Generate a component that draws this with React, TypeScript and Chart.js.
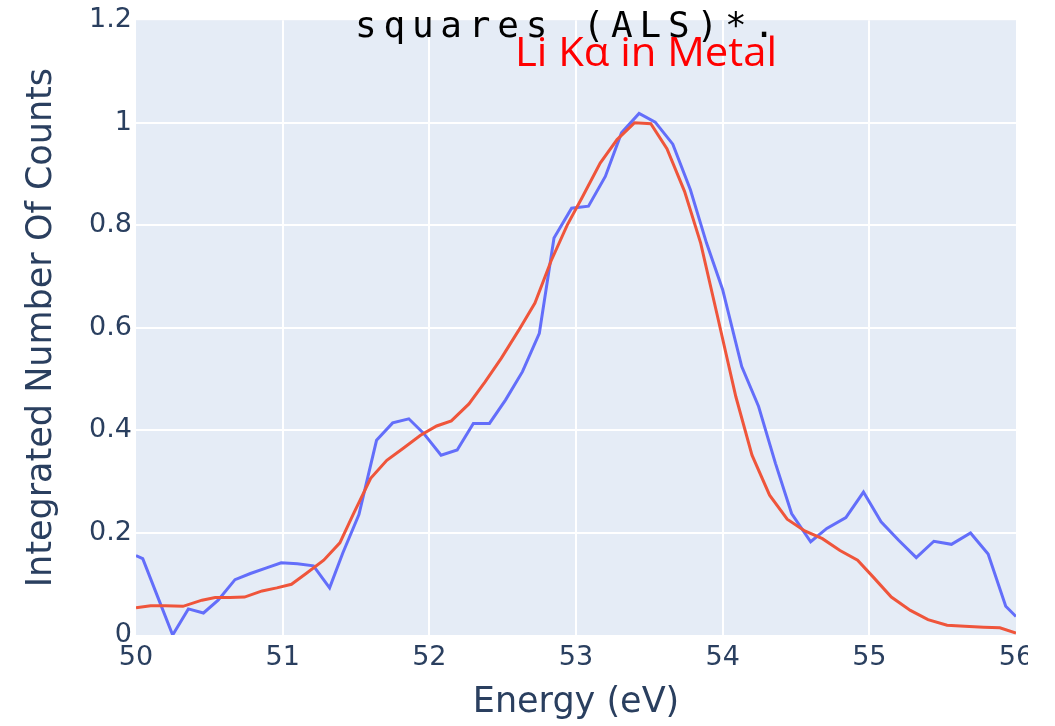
import React, { useEffect, useRef } from "react";
import { Chart, registerables } from "chart.js";

Chart.register(...registerables);

// Measured (blue) spectrum
const MEASURED_ENERGY = [
  50.0, 50.046, 50.15, 50.25, 50.357, 50.46, 50.56, 50.675, 50.78, 50.89,
  50.99, 51.1, 51.21, 51.32, 51.41, 51.52, 51.64, 51.75, 51.86, 51.96,
  52.08, 52.19, 52.3, 52.41, 52.52, 52.635, 52.75, 52.85, 52.97, 53.085,
  53.2, 53.31, 53.43, 53.54, 53.66, 53.78, 53.89, 54.0, 54.13, 54.245,
  54.36, 54.47, 54.6, 54.71, 54.84, 54.96, 55.08, 55.2, 55.32, 55.44,
  55.56, 55.69, 55.81, 55.93, 56.0,
];
const MEASURED_COUNTS = [
  0.155, 0.149, 0.073, 0.0, 0.051, 0.043, 0.068, 0.108, 0.12, 0.131,
  0.141, 0.139, 0.135, 0.092, 0.16, 0.235, 0.38, 0.414, 0.422, 0.394,
  0.351, 0.361, 0.413, 0.413, 0.459, 0.514, 0.589, 0.775, 0.833, 0.837,
  0.895, 0.98, 1.018, 1.001, 0.958, 0.869, 0.765, 0.674, 0.524, 0.446,
  0.335, 0.237, 0.182, 0.208, 0.229, 0.279, 0.221, 0.185, 0.151, 0.183,
  0.177, 0.199, 0.158, 0.056, 0.036,
];

// Reference (red) spectrum
const REFERENCE_ENERGY = [
  50.0, 50.1, 50.2, 50.32, 50.45, 50.54, 50.64, 50.74, 50.86, 50.96,
  51.06, 51.16, 51.28, 51.39, 51.48, 51.6, 51.71, 51.82, 51.94, 52.05,
  52.15, 52.27, 52.38, 52.49, 52.61, 52.72, 52.83, 52.94, 53.04, 53.165,
  53.28, 53.4, 53.51, 53.62, 53.74, 53.85, 53.96, 54.09, 54.2, 54.32,
  54.44, 54.56, 54.68, 54.8, 54.92, 55.03, 55.15, 55.28, 55.4, 55.53,
  55.65, 55.78, 55.89, 56.0,
];
const REFERENCE_COUNTS = [
  0.053, 0.057, 0.057, 0.056, 0.068, 0.073, 0.073, 0.074, 0.086, 0.092,
  0.099, 0.12, 0.146, 0.18, 0.235, 0.306, 0.341, 0.364, 0.39, 0.408,
  0.418, 0.451, 0.494, 0.54, 0.595, 0.648, 0.73, 0.8, 0.853, 0.921,
  0.967, 1.0, 0.998, 0.949, 0.866, 0.765, 0.628, 0.465, 0.351, 0.273,
  0.226, 0.203, 0.188, 0.165, 0.146, 0.112, 0.074, 0.048, 0.03, 0.019,
  0.017, 0.015, 0.014, 0.004,
];

const X_TICKS = [50, 51, 52, 53, 54, 55, 56];
const Y_TICKS = [0, 0.2, 0.4, 0.6, 0.8, 1, 1.2];
const Y_TICK_LABELS = ["0", "0.2", "0.4", "0.6", "0.8", "1", "1.2"];

const TOP_TEXT = "squares (ALS)*.";
const RED_TEXT = "Li Kα in Metal";
const X_TITLE = "Energy (eV)";
const Y_TITLE = "Integrated Number Of Counts";

const AXIS_COLOR = "#2a3f5f";
const FONT = '"DejaVu Sans", Verdana, sans-serif';

export default function App() {
  const ref = useRef<HTMLCanvasElement | null>(null);

  useEffect(() => {
    const canvas = ref.current;
    if (!canvas) return;

    const bgPlugin = {
      id: "plotBg",
      beforeDraw(chart: any) {
        const { ctx, chartArea } = chart;
        ctx.save();
        ctx.fillStyle = "#E5ECF6";
        ctx.fillRect(chartArea.left, chartArea.top, chartArea.right - chartArea.left, chartArea.bottom - chartArea.top);
        ctx.restore();
      },
      afterDraw(chart: any) {
        const { ctx } = chart;
        ctx.save();
        // clipped right edge of the original picture
        ctx.fillStyle = "#ffffff";
        ctx.fillRect(1028, chart.chartArea.bottom + 1, 40, 200);

        // black monospace caption
        ctx.font = '36px "DejaVu Sans Mono", monospace';
        ctx.fillStyle = "#000000";
        ctx.textBaseline = "alphabetic";
        ctx.textAlign = "left";
        const targetW = 420;
        const w0 = ctx.measureText(TOP_TEXT).width;
        const sp = (targetW - w0) / (TOP_TEXT.length - 1);
        (ctx as any).letterSpacing = sp.toFixed(2) + "px";
        ctx.fillText(TOP_TEXT, 355, 37);
        (ctx as any).letterSpacing = "0px";

        // red caption
        ctx.font = '40px "Open Sans", sans-serif';
        ctx.fillStyle = "#ff0000";
        const rw = ctx.measureText(RED_TEXT).width;
        const sx = 262 / rw;
        ctx.translate(515, 66);
        ctx.scale(sx, 1);
        ctx.fillText(RED_TEXT, 0, 0);
        ctx.restore();
      },
    };

    const chart = new Chart(canvas, {
      type: "line",
      data: {
        datasets: [
          {
            label: "Reference",
            data: REFERENCE_ENERGY.map((x, i) => ({ x, y: REFERENCE_COUNTS[i] })),
            borderColor: "#EF553B",
            borderWidth: 3,
            pointRadius: 0,
            tension: 0,
            fill: false,
            order: 0,
          },
          {
            label: "Measured",
            data: MEASURED_ENERGY.map((x, i) => ({ x, y: MEASURED_COUNTS[i] })),
            borderColor: "#636EFA",
            borderWidth: 3,
            pointRadius: 0,
            tension: 0,
            fill: false,
            order: 1,
          },
        ],
      },
      options: {
        responsive: false,
        animation: false,
        devicePixelRatio: 1,
        layout: { padding: { top: 20, right: 39, left: 0, bottom: 0 } },
        plugins: {
          legend: { display: false },
          tooltip: { enabled: false },
          title: { display: false },
        },
        scales: {
          x: {
            type: "linear",
            min: 50,
            max: 56,
            afterBuildTicks: (scale: any) => {
              scale.ticks = X_TICKS.map((v) => ({ value: v }));
            },
            afterFit: (scale: any) => {
              scale.height = 91;
            },
            ticks: {
              color: AXIS_COLOR,
              font: { family: FONT, size: 27 },
              padding: 7,
              maxRotation: 0,
              autoSkip: false,
              callback: (v: any) => String(v),
            },
            grid: {
              color: (c: any) => (c.tick && (c.tick.value === 50 || c.tick.value === 56) ? "rgba(0,0,0,0)" : "#ffffff"),
              lineWidth: 2,
              drawTicks: false,
            },
            border: { display: false },
            title: {
              display: true,
              text: X_TITLE,
              color: AXIS_COLOR,
              font: { family: FONT, size: 35 },
              padding: { top: 0, bottom: 2 },
            },
          },
          y: {
            type: "linear",
            min: 0,
            max: 1.2,
            afterBuildTicks: (scale: any) => {
              scale.ticks = Y_TICKS.map((v) => ({ value: v }));
            },
            afterFit: (scale: any) => {
              scale.width = 136;
            },
            ticks: {
              color: AXIS_COLOR,
              font: { family: FONT, size: 27 },
              padding: 4,
              autoSkip: false,
              callback: (v: any) => {
                const i = Y_TICKS.findIndex((t) => Math.abs(t - v) < 1e-6);
                return i >= 0 ? Y_TICK_LABELS[i] : "";
              },
            },
            grid: {
              color: (c: any) => (c.tick && (c.tick.value === 0 || Math.abs(c.tick.value - 1.2) < 1e-6) ? "rgba(0,0,0,0)" : "#ffffff"),
              lineWidth: 2,
              drawTicks: false,
            },
            border: { display: false },
            title: {
              display: true,
              text: Y_TITLE,
              color: AXIS_COLOR,
              font: { family: FONT, size: 35 },
              padding: { top: 21, bottom: 0 },
            },
          },
        },
      },
      plugins: [bgPlugin],
    } as any);

    return () => chart.destroy();
  }, []);

  return (
    <div style={{ position: "absolute", left: 0, top: 0, width: 1055, height: 726, background: "#fff" }}>
      <canvas ref={ref} width={1055} height={726} style={{ display: "block", width: 1055, height: 726 }} />
    </div>
  );
}
